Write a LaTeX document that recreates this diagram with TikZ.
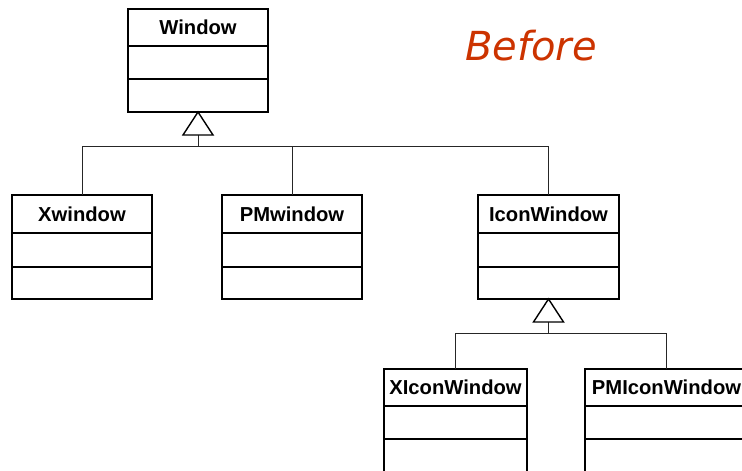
\documentclass[tikz,border=0pt]{standalone}
\usepackage{fontspec}
\setmainfont{Liberation Sans}
\newfontfamily\beforefont{DejaVu Sans}
\usetikzlibrary{positioning}
\definecolor{titlered}{RGB}{204,51,0}
\tikzset{
  hdr/.style={draw=black, line width=1.8pt, rectangle, inner sep=0pt, outer sep=0pt, anchor=north west,
    font=\fontsize{20.2}{20.2}\selectfont\bfseries, text=black},
  part/.style={draw=black, line width=1.8pt, rectangle, inner sep=0pt, outer sep=0pt, anchor=north},
  link/.style={draw=black!85, line width=1pt},
  gen/.style={draw=black, line width=1.4pt, fill=white, line join=miter},
}
\begin{document}
\begin{tikzpicture}[x=1pt, y=-1pt]
\useasboundingbox (0,0) rectangle (742,471);
\clip (0,0) rectangle (742,471);

% Window
\node[hdr, minimum width=140, minimum height=37] (w) at (128,9) {Window};
\node[part, minimum width=140, minimum height=33] (w2) at (w.south) {};
\node[part, minimum width=140, minimum height=33] (w3) at (w2.south) {};

% Xwindow
\node[hdr, minimum width=140, minimum height=38] (xw) at (12,195) {Xwindow};
\node[part, minimum width=140, minimum height=34] (xw2) at (xw.south) {};
\node[part, minimum width=140, minimum height=32] (xw3) at (xw2.south) {};

% PMwindow
\node[hdr, minimum width=140, minimum height=38] (pw) at (222,195) {PMwindow};
\node[part, minimum width=140, minimum height=34] (pw2) at (pw.south) {};
\node[part, minimum width=140, minimum height=32] (pw3) at (pw2.south) {};

% IconWindow
\node[hdr, minimum width=141, minimum height=38] (iw) at (478,195) {IconWindow};
\node[part, minimum width=141, minimum height=34] (iw2) at (iw.south) {};
\node[part, minimum width=141, minimum height=32] (iw3) at (iw2.south) {};

% XIconWindow
\node[hdr, minimum width=143, minimum height=37] (xi) at (384,369) {XIconWindow};
\node[part, minimum width=143, minimum height=33] (xi2) at (xi.south) {};
\node[part, minimum width=143, minimum height=40] (xi3) at (xi2.south) {};

% PMIconWindow
\node[hdr, minimum width=163, minimum height=37] (pi) at (585,369) {PMIconWindow};
\node[part, minimum width=163, minimum height=33] (pi2) at (pi.south) {};
\node[part, minimum width=163, minimum height=40] (pi3) at (pi2.south) {};

% Before
\node[font=\beforefont\itshape\fontsize{40}{40}\selectfont, text=titlered, inner sep=0pt] (title) at (531,46) {Before};

% generalization 1
\coordinate (a1) at (w3.south);
\coordinate (b1) at ([yshift=-23pt]a1);
\coordinate (j1) at ([yshift=-34pt]a1);
\draw[link] (b1) -- (j1);
\draw[link] (xw.north) |- (j1);
\draw[link] (pw.north) |- (j1);
\draw[link] (iw.north) |- (j1);
\draw[gen] (a1) -- ([xshift=-15pt]b1) -- ([xshift=15pt]b1) -- cycle;

% generalization 2
\coordinate (a2) at (iw3.south);
\coordinate (b2) at ([yshift=-23pt]a2);
\coordinate (j2) at ([yshift=-34pt]a2);
\draw[link] (b2) -- (j2);
\draw[link] (xi.north) |- (j2);
\draw[link] (pi.north) |- (j2);
\draw[gen] (a2) -- ([xshift=-15pt]b2) -- ([xshift=15pt]b2) -- cycle;
\end{tikzpicture}
\end{document}
